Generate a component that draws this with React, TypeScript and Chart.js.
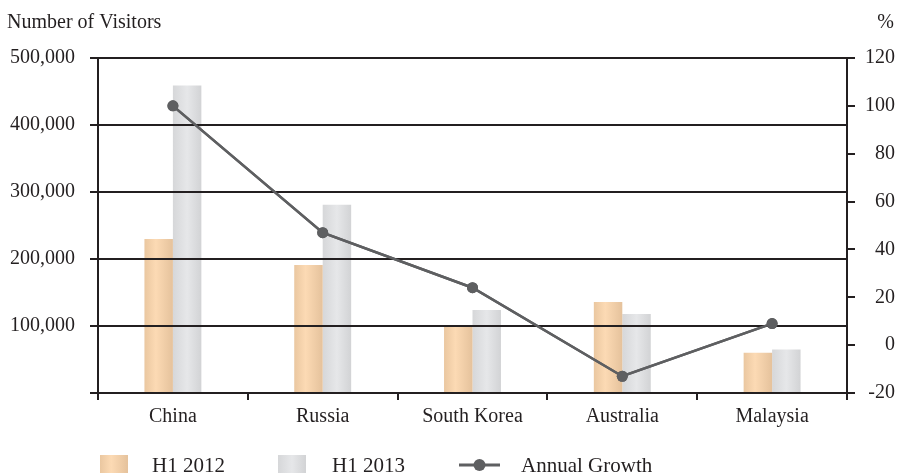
import React, { useEffect, useRef } from "react";
import { Chart, registerables } from "chart.js";

Chart.register(...registerables);

const categories = ["China", "Russia", "South Korea", "Australia", "Malaysia"];
const h2012 = [230000, 191000, 101000, 136000, 60000];
const h2013 = [459000, 281000, 124000, 118000, 65000];
const growth = [100, 47, 24, -13, 9];

const leftTitle = "Number of Visitors";
const rightTitle = "%";
const seriesNames = ["H1 2012", "H1 2013", "Annual Growth"];

const FONT = "'Liberation Serif', 'DejaVu Serif', serif";
const FS = 20;
const LEGEND_FS = 21;
const INK = "#231f20";
const LINE_COLOR = "#5e5f61";

const ORANGE_STOPS: [number, string][] = [
  [0, "#eac7a0"],
  [0.4, "#fcdab4"],
  [1, "#e5c29c"],
];
const GREY_STOPS: [number, string][] = [
  [0, "#d6d7d9"],
  [0.5, "#e6e7e9"],
  [1, "#d2d3d5"],
];

function makeGrad(ctx: CanvasRenderingContext2D, x0: number, x1: number, stops: [number, string][]) {
  const g = ctx.createLinearGradient(x0, 0, x1, 0);
  stops.forEach(([o, c]) => g.addColorStop(o, c));
  return g;
}

const gradientPlugin = {
  id: "barGradient",
  beforeDatasetsDraw(chart: any) {
    const ctx = chart.ctx;
    [0, 1].forEach((di) => {
      const meta = chart.getDatasetMeta(di);
      const stops = di === 0 ? ORANGE_STOPS : GREY_STOPS;
      meta.data.forEach((el: any) => {
        const w = el.width;
        const g = makeGrad(ctx, el.x - w / 2, el.x + w / 2, stops);
        el.options = Object.assign({}, el.options, { backgroundColor: g, borderWidth: 0 });
      });
    });
  },
};

// legend layout offsets from the plot's left edge
const LEGEND_BOX_X = [2, 180];
const LEGEND_TEXT_X = [54, 234, 423];
const LEGEND_LINE_X = 361;

const overlayPlugin = {
  id: "overlay",
  afterDraw(chart: any) {
    const ctx: CanvasRenderingContext2D = chart.ctx;
    // line series drawn above the grid lines
    chart.getDatasetMeta(2).controller.draw();

    ctx.save();
    ctx.fillStyle = INK;
    ctx.font = `${FS}px ${FONT}`;
    ctx.textBaseline = "alphabetic";
    ctx.textAlign = "left";
    ctx.fillText(leftTitle, 7, 28);
    ctx.textAlign = "right";
    ctx.fillText(rightTitle, chart.width - 4, 28);

    // legend
    ctx.textAlign = "left";
    ctx.font = `${LEGEND_FS}px ${FONT}`;
    const left = chart.chartArea.left;
    const boxTop = chart.height - 20;
    const boxH = 18;
    const baseY = chart.height - 3;
    [0, 1].forEach((i) => {
      const x = left + LEGEND_BOX_X[i];
      const w = 28;
      ctx.fillStyle = makeGrad(ctx, x, x + w, i === 0 ? ORANGE_STOPS : GREY_STOPS);
      ctx.fillRect(x, boxTop, w, boxH);
      ctx.fillStyle = INK;
      ctx.fillText(seriesNames[i], left + LEGEND_TEXT_X[i], baseY);
    });
    const lx = left + LEGEND_LINE_X;
    const lw = 41;
    const ly = boxTop + boxH / 2 + 1;
    ctx.strokeStyle = LINE_COLOR;
    ctx.lineWidth = 3;
    ctx.beginPath();
    ctx.moveTo(lx, ly);
    ctx.lineTo(lx + lw, ly);
    ctx.stroke();
    ctx.fillStyle = LINE_COLOR;
    ctx.beginPath();
    ctx.arc(lx + lw / 2, ly, 6, 0, Math.PI * 2);
    ctx.fill();
    ctx.fillStyle = INK;
    ctx.fillText(seriesNames[2], left + LEGEND_TEXT_X[2], baseY);
    ctx.restore();
  },
};

export default function App() {
  const ref = useRef<HTMLCanvasElement | null>(null);
  useEffect(() => {
    if (!ref.current) return;
    const chart = new Chart(ref.current, {
      type: "bar",
      data: {
        labels: categories,
        datasets: [
          {
            label: seriesNames[0],
            data: h2012,
            backgroundColor: "#f5d3ad",
            yAxisID: "y",
            barPercentage: 1,
            categoryPercentage: 0.38,
            order: 1,
          },
          {
            label: seriesNames[1],
            data: h2013,
            backgroundColor: "#e0e1e3",
            yAxisID: "y",
            barPercentage: 1,
            categoryPercentage: 0.38,
            order: 1,
          },
          {
            type: "line",
            label: seriesNames[2],
            data: growth,
            yAxisID: "y1",
            borderColor: LINE_COLOR,
            backgroundColor: LINE_COLOR,
            borderWidth: 2.5,
            pointRadius: 5.5,
            pointBackgroundColor: LINE_COLOR,
            pointBorderWidth: 0,
            tension: 0,
            order: 0,
          },
        ],
      },
      options: {
        responsive: false,
        animation: false,
        devicePixelRatio: 1,
        layout: { padding: { top: 58, right: 3, bottom: 0, left: 0 } },
        plugins: {
          legend: { display: false },
          tooltip: { enabled: false },
          title: { display: false },
        },
        scales: {
          x: {
            grid: {
              display: true,
              drawOnChartArea: false,
              offset: true,
              tickLength: 7,
              color: INK,
              lineWidth: 2,
            },
            border: { display: true, color: INK, width: 2 },
            ticks: { color: INK, font: { family: FONT, size: FS }, padding: 5, maxRotation: 0 },
            afterFit: (s: any) => {
              s.height = 82;
            },
          },
          y: {
            position: "left",
            min: 0,
            max: 500000,
            grid: { color: INK, lineWidth: 2, tickLength: 8, z: 1 },
            border: { display: true, color: INK, width: 2, z: 1 },
            ticks: {
              stepSize: 100000,
              color: INK,
              font: { family: FONT, size: FS },
              padding: 15,
              callback: (v: any) => (Number(v) === 0 ? "" : Number(v).toLocaleString("en-US")),
            },
            afterFit: (s: any) => {
              s.width = 98;
            },
          },
          y1: {
            position: "right",
            min: -20,
            max: 120,
            grid: { drawOnChartArea: false, color: INK, lineWidth: 2, tickLength: 8 },
            border: { display: true, color: INK, width: 2 },
            ticks: {
              stepSize: 20,
              color: INK,
              font: { family: FONT, size: FS },
              padding: 10,
              crossAlign: "far",
            },
            afterFit: (s: any) => {
              s.width = 48;
            },
          },
        },
      },
      plugins: [gradientPlugin, overlayPlugin],
    } as any);
    return () => chart.destroy();
  }, []);

  return (
    <div style={{ position: "fixed", left: 0, top: 0, width: 898, height: 475, background: "#fff" }}>
      <canvas ref={ref} width={898} height={475} style={{ display: "block" }} />
    </div>
  );
}
